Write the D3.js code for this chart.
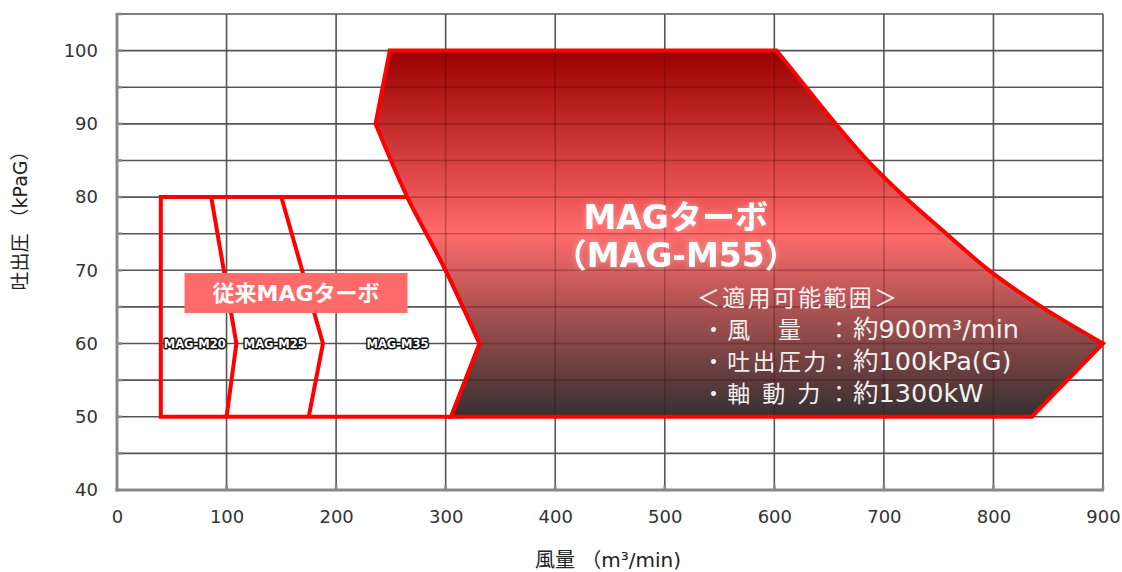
<!DOCTYPE html>
<html><head><meta charset="utf-8">
<script src="https://cdn.jsdelivr.net/npm/d3@7"></script>
<style>
body{margin:0;background:#fff}
svg{display:block}
text{font-family:"DejaVu Sans","Noto Sans CJK JP",sans-serif}
</style>
</head><body>
<svg id="c" width="1122" height="572"></svg>
<script>
// ---- data ----
const xTicks = [0,100,200,300,400,500,600,700,800,900];
const yTicks = [40,50,60,70,80,90,100];
const yGrid = [45,50,55,60,65,70,75,80,85,90,95,100,105];
const xGrid = [100,200,300,400,500,600,700,800,900];
// MAG-M55 applicable range boundary
const topLeftFlow = 249, topLeftPres = 100;
const rightFlow = [602,629,656,685,719,757,796,844,900];
const rightPres = [100,95,90,85,80,75,70,65,60];
const bottomFlow = [835,305];
const bottomPres = [50,50];
const leftFlow = [331,300,265,236];
const leftPres = [60,70,80,90];
// conventional MAG turbo range
const oldLeftFlow = 40, oldTopPres = 80, oldBottomPres = 50;
const div1Flow = [86,109,100], div1Pres = [80,60,50];
const div2Flow = [150,188,175], div2Pres = [80,60,50];
const modelNames = ["MAG-M20","MAG-M25","MAG-M35"];
const modelFlow = [71,144,256];
const modelPres = [60,60,60];
const oldLabel = "従来MAGターボ";
const titleLines = ["MAGターボ","（MAG-M55）"];
const specHeader = "＜適用可能範囲＞";
const specLabels = ["・風　量","・吐出圧力","・軸 動 力"];
const specValues = ["約900m³/min","約100kPa(G)","約1300kW"];
const xTitle = "風量 （m³/min)";
const yTitle = "吐出圧 （kPaG）";

// ---- layout ----
const svg = d3.select("#c");
const x = d3.scaleLinear().domain([0,900]).range([117,1103]);
const y = d3.scaleLinear().domain([40,105]).range([490,14]);
const pts = (fx,fy)=>fx.map((v,i)=>[x(v),y(fy[i])]);
const line = d3.line();
const curve = d3.line().curve(d3.curveCatmullRom.alpha(0.5));
const cont = s => s.replace(/^M/,"L");

const m55Path =
  `M${x(topLeftFlow)},${y(topLeftPres)}` +
  cont(curve(pts(rightFlow,rightPres))) +
  cont(line(pts(bottomFlow,bottomPres))) +
  cont(curve(pts(leftFlow,leftPres))) + "Z";

const oldPath =
  `M${x(oldLeftFlow)},${y(oldTopPres)}` +
  cont(curve(pts(leftFlow.slice(0,3).reverse(), leftPres.slice(0,3).reverse()))) +
  `L${x(bottomFlow[1])},${y(oldBottomPres)}L${x(oldLeftFlow)},${y(oldBottomPres)}Z`;

const defs = svg.append("defs");
const grad = defs.append("linearGradient").attr("id","g55")
  .attr("gradientUnits","userSpaceOnUse")
  .attr("x1",0).attr("x2",0).attr("y1",y(100)).attr("y2",y(50));
grad.append("stop").attr("offset","0").attr("stop-color","#990000");
grad.append("stop").attr("offset","0.5").attr("stop-color","#ff6a6a");
grad.append("stop").attr("offset","1").attr("stop-color","#353030");
defs.append("clipPath").attr("id","clip55").append("path").attr("d", m55Path);
const glow = defs.append("filter").attr("id","glow").attr("x","-20%").attr("y","-40%").attr("width","140%").attr("height","180%");
glow.append("feGaussianBlur").attr("in","SourceAlpha").attr("stdDeviation",3).attr("result","b");
glow.append("feFlood").attr("flood-color","#ffffff").attr("flood-opacity",0.35).attr("result","f");
glow.append("feComposite").attr("in","f").attr("in2","b").attr("operator","in").attr("result","s");
const mg = glow.append("feMerge");
mg.append("feMergeNode").attr("in","s");
mg.append("feMergeNode").attr("in","SourceGraphic");

// grid
function drawGrid(g, color, width){
  g.selectAll(".h").data(yGrid).join("line")
    .attr("x1",x(0)).attr("x2",x(900)).attr("y1",d=>y(d)).attr("y2",d=>y(d))
    .attr("stroke",color).attr("stroke-width",width);
  g.selectAll(".v").data(xGrid).join("line")
    .attr("y1",y(40)).attr("y2",y(105)).attr("x1",d=>x(d)).attr("x2",d=>x(d))
    .attr("stroke",color).attr("stroke-width",width);
}
drawGrid(svg.append("g"), "#555", 1.6);

// axes
const yAx = svg.append("g").attr("transform",`translate(${x(0)},0)`)
  .call(d3.axisLeft(y).tickValues(yTicks).tickSize(0).tickPadding(19).tickFormat(d3.format("d")));
const xAx = svg.append("g").attr("transform",`translate(0,${y(40)})`)
  .call(d3.axisBottom(x).tickValues(xTicks).tickSize(0).tickPadding(20).tickFormat(d3.format("d")));
[yAx,xAx].forEach(a=>{
  a.select(".domain").remove();
  a.selectAll("text").attr("font-size","18px").attr("fill","#333")
    .attr("font-family",'"DejaVu Sans","Noto Sans CJK JP",sans-serif');
});
// inner tick stubs
svg.append("g").selectAll("line").data(yGrid).join("line")
  .attr("x1",x(0)).attr("x2",x(0)+5).attr("y1",d=>y(d)).attr("y2",d=>y(d))
  .attr("stroke","#888").attr("stroke-width",2.5);
svg.append("g").selectAll("line").data(xGrid).join("line")
  .attr("y1",y(40)).attr("y2",y(40)-5).attr("x1",d=>x(d)).attr("x2",d=>x(d))
  .attr("stroke","#888").attr("stroke-width",2.5);
svg.append("line").attr("x1",x(0)).attr("x2",x(0)).attr("y1",y(105)-1).attr("y2",y(40)+1.5)
  .attr("stroke","#888").attr("stroke-width",3);
svg.append("line").attr("x1",x(0)-1.5).attr("x2",x(900)+1).attr("y1",y(40)).attr("y2",y(40))
  .attr("stroke","#888").attr("stroke-width",3);

// axis titles
svg.append("text").attr("x",608).attr("y",567).attr("text-anchor","middle")
  .attr("font-size","20px").attr("fill","#222").text(xTitle);
svg.append("text").attr("transform","translate(27,216) rotate(-90)").attr("text-anchor","middle")
  .attr("font-size","19px").attr("fill","#222").text(yTitle);

// conventional range
svg.append("path").attr("d", oldPath)
  .attr("fill","none").attr("stroke","#ff0000").attr("stroke-width",4).attr("stroke-linejoin","miter");
[[div1Flow,div1Pres],[div2Flow,div2Pres]].forEach(([f,p])=>{
  svg.append("path").attr("d", line(pts(f,p))).attr("fill","none")
    .attr("stroke","#ff0000").attr("stroke-width",4);
});

// M55 range
svg.append("path").attr("d", m55Path).attr("fill","url(#g55)");
drawGrid(svg.append("g").attr("clip-path","url(#clip55)"), "rgba(60,0,0,0.28)", 1.6);
svg.append("path").attr("d", m55Path)
  .attr("fill","none").attr("stroke","#ff0000").attr("stroke-width",4).attr("stroke-linejoin","miter");

// model labels
svg.append("g").selectAll("text").data(modelNames).join("text")
  .attr("x",(d,i)=>x(modelFlow[i])).attr("y",(d,i)=>y(modelPres[i])+4)
  .attr("text-anchor","middle").attr("font-size","11.5px").attr("font-weight","bold")
  .attr("fill","#fff").attr("stroke","#111").attr("stroke-width",3)
  .attr("paint-order","stroke").attr("stroke-linejoin","round").text(d=>d);

// conventional label box
const lx = x(163.4), ly = y(66.9);
svg.append("rect").attr("x",lx-111.5).attr("y",ly-20).attr("width",223).attr("height",40)
  .attr("fill","#ff6b6b");
svg.append("text").attr("x",lx).attr("y",ly+8).attr("text-anchor","middle")
  .attr("font-size","22px").attr("font-weight","bold").attr("fill","#fff").text(oldLabel);

// title
const tx = x(510), ty = y(75.6);
svg.append("g").attr("filter","url(#glow)").selectAll("text").data(titleLines).join("text")
  .attr("x",tx).attr("y",(d,i)=>ty+i*38).attr("text-anchor","middle")
  .attr("font-size","33px").attr("font-weight","bold").attr("fill","#fff").text(d=>d);

// spec block
const sx = x(534), sy = y(65.1);
svg.append("text").attr("x",sx-5).attr("y",sy).attr("font-size","23px").attr("letter-spacing","2.3px")
  .attr("fill","#f4f0f0").text(specHeader);
specLabels.forEach((t,i)=>{
  const by = sy + 32*(i+1);
  svg.append("text").attr("x",sx).attr("y",by).attr("font-size","23px").attr("letter-spacing","2.3px")
    .attr("fill","#f4f0f0").text(t);
  svg.append("text").attr("x",sx+137).attr("y",by).attr("text-anchor","middle").attr("font-size","23px")
    .attr("fill","#f4f0f0").text("：");
  svg.append("text").attr("x",sx+151).attr("y",by).attr("font-size","25.5px")
    .attr("fill","#f4f0f0").text(specValues[i]);
});
</script>
</body></html>
